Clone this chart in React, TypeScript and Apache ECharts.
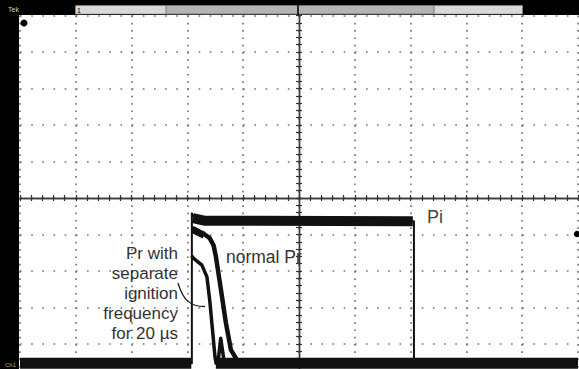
import React, { useEffect, useRef } from "react";
import * as echarts from "echarts";

// Axes in screen divisions: time -5..5 (10 div), amplitude -5..5 (lower part cropped by the window)
const timeRange = [-5, 5];
const ampRange = [-5, 5];

// Pi (full trace, thin edges)
const piTrace: number[][] = [
  [-5, -4.53], [-1.92, -4.53], [-1.92, -0.42], [-1.86, -0.55], [-1.6, -0.62],
  [2.06, -0.64], [2.06, -4.53], [5, -4.53],
];
// Pi noisy plateau (thick band)
const piPlateau: number[][] = [
  [-1.9, -0.55], [-1.7, -0.62], [2.04, -0.64],
];
// normal Pr
const normalPr: number[][] = [
  [-1.92, -0.82], [-1.8, -0.93], [-1.69, -1.0], [-1.6, -1.1], [-1.53, -1.3],
  [-1.49, -1.6], [-1.4, -2.5], [-1.31, -3.42], [-1.22, -4.16], [-1.11, -4.44],
  [-0.97, -4.53],
];
// normal Pr noisy top (thick band)
const normalPrTop: number[][] = [
  [-1.91, -0.86], [-1.8, -0.95], [-1.7, -1.02],
];
// Pr with separate ignition frequency for 20 µs
const separatePr: number[][] = [
  [-1.92, -1.58], [-1.9, -1.64], [-1.74, -1.84], [-1.65, -2.16], [-1.6, -2.8],
  [-1.55, -3.62], [-1.505, -4.36], [-1.487, -4.53], [-1.45, -4.5], [-1.403, -3.84],
  [-1.344, -4.45], [-1.31, -4.53], [5, -4.53],
];
// thick noisy baseline where traces rest
const baselineLeft: number[][] = [[-5, -4.53], [-1.93, -4.53]];
const baselineRight: number[][] = [[-1.49, -4.53], [5, -4.53]];

const labelLinesPr = ["Pr with", "separate", "ignition", "frequency", "for 20 µs"];
const labelNormal = "normal Pr";
const labelPi = "Pi";

const FONT = '"Liberation Sans", Arial, Helvetica, sans-serif';

export default function App() {
  const ref = useRef<HTMLDivElement>(null);
  useEffect(() => {
    if (!ref.current) return;
    const chart = echarts.init(ref.current, undefined, { renderer: "svg" });
    const dotV = { color: "#777", width: 1.7, type: [1.7, 5.6] as any };
    const dotH = { color: "#777", width: 1.7, type: [1.7, 9.46] as any };
    const line = (name: string, data: number[][], width: number, z = 3) => ({
      name,
      type: "line",
      data,
      showSymbol: false,
      symbol: "none",
      z,
      lineStyle: { color: "#111", width, join: "round", cap: "butt" },
      silent: true,
    });
    const axisCommon = {
      type: "value",
      interval: 1,
      axisLine: { show: true, onZero: true, lineStyle: { color: "#3a3a3a", width: 1.4 } },
      axisTick: { show: true, length: 3, lineStyle: { color: "#333", width: 1.2 } },
      minorTick: { show: true, splitNumber: 5, length: 3, lineStyle: { color: "#333", width: 1.2 } },
      axisLabel: { show: false },
    };
    const option: any = {
      animation: false,
      backgroundColor: "#ffffff",
      grid: { left: 20, top: 15.5, width: 558, height: 365, containLabel: false },
      xAxis: [
        { ...axisCommon, min: timeRange[0], max: timeRange[1], position: "bottom", splitLine: { show: true, lineStyle: dotV } },
        { ...axisCommon, min: timeRange[0], max: timeRange[1], position: "top", splitLine: { show: false } },
      ],
      yAxis: [
        { ...axisCommon, min: ampRange[0], max: ampRange[1], position: "left", splitLine: { show: true, lineStyle: dotH } },
        { ...axisCommon, min: ampRange[0], max: ampRange[1], position: "right", splitLine: { show: false } },
      ],
      series: [
        line("Pi baseline L", baselineLeft, 11),
        line("Pi baseline R", baselineRight, 11),
        line("Pi", piTrace, 2),
        line("Pi plateau", piPlateau, 10),
        line("normal Pr", normalPr, 4.5),
        line("normal Pr top", normalPrTop, 7),
        line("Pr separate", separatePr, 3.5),
      ],
      graphic: [
        { type: "rect", z: 100, shape: { x: 0, y: 0, width: 579, height: 15 }, style: { fill: "#000" } },
        { type: "rect", z: 100, shape: { x: 0, y: 0, width: 19, height: 385 }, style: { fill: "#000" } },
        { type: "rect", z: 101, shape: { x: 75.5, y: 5.5, width: 447, height: 8.5 }, style: { fill: "#d8d8d8", stroke: "#8a8a8a", lineWidth: 0.6 } },
        { type: "rect", z: 102, shape: { x: 166, y: 5.5, width: 268, height: 8.5 }, style: { fill: "#b4b4b4", stroke: "#6a6a6a", lineWidth: 0.8 } },
        { type: "line", z: 103, shape: { x1: 298, y1: 4, x2: 298, y2: 15 }, style: { stroke: "#000", lineWidth: 1.5 } },
        { type: "text", z: 103, x: 77, y: 10, style: { text: "1", fill: "#000", fontSize: 7, fontFamily: FONT, verticalAlign: "middle" } },
        { type: "text", z: 103, x: 8, y: 9, style: { text: "Tek", fill: "#cfcfcf", fontSize: 7, fontFamily: FONT, verticalAlign: "middle" } },
        { type: "text", z: 103, x: 5, y: 365, style: { text: "Ch1", fill: "#aaaaaa", fontSize: 6, fontFamily: FONT, verticalAlign: "middle" } },
        { type: "circle", z: 103, shape: { cx: 24, cy: 23, r: 3.5 }, style: { fill: "#000" } },
        { type: "circle", z: 103, shape: { cx: 577, cy: 234, r: 3.2 }, style: { fill: "#000" } },
        {
          type: "bezierCurve", z: 103,
          shape: { x1: 178, y1: 283, cpx1: 183, cpy1: 300, cpx2: 190, cpy2: 306.5, x2: 205, y2: 306.5 },
          style: { stroke: "#222", lineWidth: 1.3, fill: null },
        },
        ...labelLinesPr.map((t, i) => ({
          type: "text", z: 104, x: 178, y: 253 + i * 20,
          style: { text: t, fill: "#333", fontSize: 17, fontFamily: FONT, align: "right", verticalAlign: "middle" },
        })),
        { type: "text", z: 104, x: 226, y: 257, style: { text: labelNormal, fill: "#333", fontSize: 17.5, fontFamily: FONT, align: "left", verticalAlign: "middle" } },
        { type: "text", z: 104, x: 427, y: 217, style: { text: labelPi, fill: "#444", fontSize: 18, fontFamily: FONT, align: "left", verticalAlign: "middle" } },
      ],
    };
    chart.setOption(option);
    return () => chart.dispose();
  }, []);
  return (
    <div
      ref={ref}
      style={{ position: "fixed", left: 0, top: 0, width: 579, height: 385, background: "#fff" }}
    />
  );
}
